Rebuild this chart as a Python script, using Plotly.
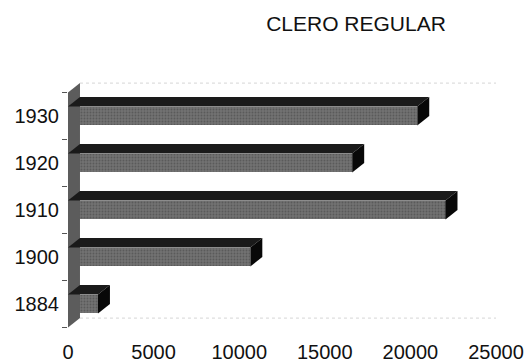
import plotly.graph_objects as go

years = ["1884", "1900", "1910", "1920", "1930"]
values = [1750, 10650, 22050, 16600, 20400]
x_ticks = [0, 5000, 10000, 15000, 20000, 25000]
title_text = "CLERO REGULAR"

# 3D look parameters (in axis units)
DX = 700      # depth offset along x
DY = 0.2      # depth offset along y (category units)
H = 0.202     # half height of front face
FRONT = "#727272"
TOP = "#1a1a1a"
SIDE = "#080808"
WALL = "#5c5c5c"

pos = list(range(len(years)))
fig = go.Figure()

# back/left wall
lo, hi = -0.5, len(years) - 0.5
fig.add_trace(go.Scatter(
    x=[0, 0, DX, DX, 0], y=[lo, hi, hi + DY, lo + DY, lo],
    fill="toself", fillcolor=WALL, line=dict(width=0), mode="lines",
    hoverinfo="skip", showlegend=False))
# faint dotted edges of back wall
for yy in (hi + DY, lo + DY):
    fig.add_trace(go.Scatter(
        x=[DX, x_ticks[-1]], y=[yy, yy], mode="lines",
        line=dict(color="#d6d6d6", width=1, dash="dot"),
        hoverinfo="skip", showlegend=False))

# top and end faces
for i, v in zip(pos, values):
    fig.add_trace(go.Scatter(
        x=[0, v, v + DX, DX, 0],
        y=[i + H, i + H, i + H + DY, i + H + DY, i + H],
        fill="toself", fillcolor=TOP, line=dict(width=0), mode="lines",
        hoverinfo="skip", showlegend=False))
    fig.add_trace(go.Scatter(
        x=[v, v, v + DX, v + DX, v],
        y=[i - H, i + H, i + H + DY, i - H + DY, i - H],
        fill="toself", fillcolor=SIDE, line=dict(width=0), mode="lines",
        hoverinfo="skip", showlegend=False))

# front faces
fig.add_trace(go.Bar(
    x=values, y=pos, orientation="h", width=2 * H,
    marker=dict(color=FRONT, line=dict(width=0),
                pattern=dict(shape=".", fgcolor="#5a5a5a", bgcolor=FRONT,
                             size=3, solidity=0.3, fillmode="replace")),
    showlegend=False))

W, Hgt = 526, 364
font_family = "Liberation Sans, Arial, sans-serif"
fig.update_layout(
    width=W, height=Hgt,
    margin=dict(l=68, r=30, t=60, b=26),
    paper_bgcolor="white", plot_bgcolor="white",
    showlegend=False,
    font=dict(family=font_family, color="#111111", size=20),
    title=dict(text=title_text, x=356 / W, xanchor="center",
               y=1 - 24 / Hgt, yanchor="middle",
               font=dict(family=font_family, size=21, color="#111111")),
    bargap=0,
)
fig.update_xaxes(range=[0, 25000], tickvals=x_ticks,
                 ticktext=[str(t) for t in x_ticks], automargin=False,
                 showgrid=False, zeroline=False, showline=False, ticks="",
                 tickfont=dict(size=20), ticklabelstandoff=0)
fig.update_yaxes(range=[-0.7234, 5.1915], tickvals=pos, ticktext=years,
                 automargin=False,
                 showgrid=False, zeroline=False, showline=False, ticks="",
                 tickfont=dict(size=20), ticklabelstandoff=8,
                 minor=dict(tickvals=[p - 0.5 for p in pos] + [hi],
                            ticks="outside", ticklen=5, tickcolor="#555555",
                            showgrid=False))

# remove the browser's default 8px body margin so the figure fills the window
fig.write_html("out.html",
               config={"displayModeBar": False},
               post_script="document.body.style.margin='0';"
                           "document.body.style.overflow='hidden';")
